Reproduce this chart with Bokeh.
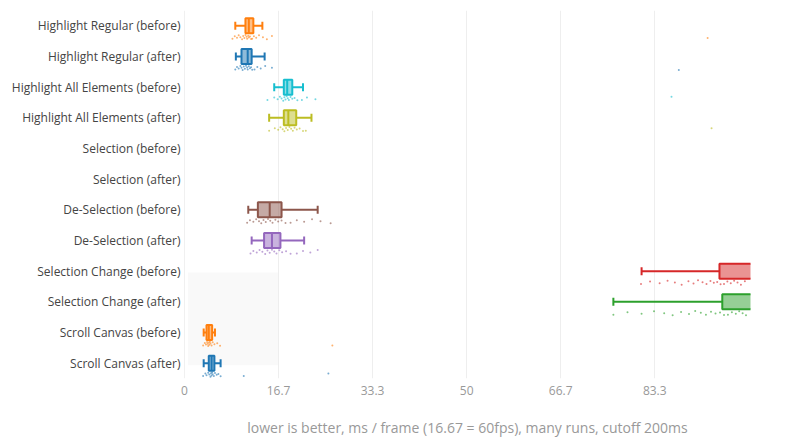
import math
from bokeh.plotting import figure
from bokeh.models import ColumnDataSource, Range1d, FixedTicker, CustomJSTickFormatter, Span
from bokeh.embed import file_html
from bokeh.resources import INLINE

categories = ["Highlight Regular (before)", "Highlight Regular (after)",
              "Highlight All Elements (before)", "Highlight All Elements (after)",
              "Selection (before)", "Selection (after)",
              "De-Selection (before)", "De-Selection (after)",
              "Selection Change (before)", "Selection Change (after)",
              "Scroll Canvas (before)", "Scroll Canvas (after)"]
colors = ["#ff7f0e", "#1f77b4", "#17becf", "#bcbd22", "#7f7f7f", "#e377c2",
          "#8c564b", "#9467bd", "#d62728", "#2ca02c", "#ff7f0e", "#1f77b4"]

nan = float("nan")
lower_whisker = [9.0, 9.1, 15.9, 15.0, nan, nan, 11.3, 11.9, 81.0, 76.0, 3.4, 3.4]
q1 = [10.8, 10.1, 17.6, 17.6, nan, nan, 13.0, 14.1, 94.8, 95.3, 3.9, 4.3]
median = [11.4, 11.2, 18.2, 18.4, nan, nan, 15.1, 15.5, 108.0, 110.0, 4.3, 4.8]
q3 = [12.2, 11.9, 19.1, 19.8, nan, nan, 17.2, 17.0, 125.0, 128.0, 4.9, 5.3]
upper_whisker = [13.8, 14.2, 21.0, 22.5, nan, nan, 23.6, 21.2, 160.0, 170.0, 5.4, 6.4]

points = [
    [8.5, 8.9, 9.3, 9.6, 9.9, 10.2, 10.4, 10.6, 10.8, 11.0, 11.1, 11.3, 11.4, 11.6, 11.8, 12.0, 12.3, 12.7, 13.2, 13.9, 14.6, 15.5, 92.7],
    [9.0, 9.3, 9.6, 9.9, 10.1, 10.3, 10.5, 10.7, 10.9, 11.1, 11.2, 11.4, 11.6, 11.8, 12.0, 12.4, 12.9, 13.5, 14.3, 15.5, 87.6],
    [14.7, 15.9, 16.5, 16.9, 17.2, 17.5, 17.7, 17.9, 18.1, 18.3, 18.5, 18.8, 19.1, 19.5, 20.0, 20.8, 21.7, 23.2, 86.3],
    [15.0, 16.0, 16.6, 17.0, 17.4, 17.7, 18.0, 18.3, 18.6, 18.9, 19.2, 19.5, 19.9, 20.4, 21.0, 21.5, 93.4],
    [],
    [],
    [11.1, 11.6, 12.2, 12.7, 13.2, 13.6, 14.0, 14.4, 14.8, 15.2, 15.6, 16.1, 16.6, 17.2, 17.9, 18.8, 19.9, 21.2, 22.6, 24.1, 25.9],
    [11.7, 12.2, 12.8, 13.3, 13.8, 14.3, 14.7, 15.1, 15.5, 15.9, 16.3, 16.8, 17.3, 18.0, 18.8, 19.9, 21.0, 22.3, 23.6],
    [80.9, 82.5, 84.2, 85.6, 86.9, 88.1, 89.3, 90.2, 91.0, 91.8, 92.5, 93.2, 93.8, 94.4, 95.0, 95.6, 96.2, 96.8, 97.4, 98.0, 98.6, 99.3, 101.0, 104.0, 110.0, 120.0],
    [76.0, 78.5, 81.0, 83.2, 85.0, 86.5, 88.0, 89.4, 90.5, 91.5, 92.4, 93.3, 94.1, 94.9, 95.6, 96.3, 97.0, 97.7, 98.3, 98.9, 99.5, 102.0, 106.0, 115.0],
    [3.3, 3.6, 3.8, 4.0, 4.1, 4.2, 4.3, 4.4, 4.5, 4.6, 4.8, 5.0, 5.3, 5.8, 6.3, 26.2],
    [3.3, 3.7, 3.9, 4.2, 4.4, 4.6, 4.7, 4.8, 4.9, 5.0, 5.2, 5.4, 5.7, 6.0, 6.4, 10.5, 25.5],
]

x_ticks = [0, 50 / 3, 100 / 3, 50, 200 / 3, 250 / 3]
axis_title = "lower is better, ms / frame (16.67 = 60fps), many runs, cutoff 200ms"

FONT = "Open Sans"
n = len(categories)
ypos = [n - 1 - i for i in range(n)]

p = figure(width=800, height=440, output_backend="svg", toolbar_location=None,
           x_range=Range1d(0, 100.3), y_range=Range1d(-0.5, n - 0.5),
           min_border_left=184, min_border_right=50, min_border_top=10, min_border_bottom=62)
p.outline_line_color = None
p.background_fill_color = "white"

# faint shaded background region
p.quad(left=[0.6], right=[50 / 3], bottom=[-0.07], top=[2.96],
       fill_color="#f9f9f9", line_color=None, level="underlay")

# x axis
p.xaxis.ticker = FixedTicker(ticks=x_ticks)
p.xaxis.formatter = CustomJSTickFormatter(code="return Number(tick.toFixed(1)).toString();")
p.xaxis.axis_line_color = None
p.xaxis.major_tick_line_color = None
p.xaxis.minor_tick_line_color = None
p.xaxis.major_tick_out = 0
p.xaxis.major_tick_in = 0
p.xaxis.minor_tick_out = 0
p.xaxis.major_label_standoff = 7
p.xaxis.major_label_text_font = FONT
p.xaxis.major_label_text_font_size = "12px"
p.xaxis.major_label_text_color = "#999999"
p.xaxis.axis_label = axis_title
p.xaxis.axis_label_text_font = FONT
p.xaxis.axis_label_text_font_size = "14px"
p.xaxis.axis_label_text_font_style = "normal"
p.xaxis.axis_label_text_color = "#999999"
p.xaxis.axis_label_standoff = 20

# y axis
p.yaxis.ticker = FixedTicker(ticks=ypos)
p.yaxis.major_label_overrides = {ypos[i]: categories[i] for i in range(n)}
p.yaxis.axis_line_color = None
p.yaxis.major_tick_line_color = None
p.yaxis.minor_tick_line_color = None
p.yaxis.major_tick_out = 0
p.yaxis.major_tick_in = 0
p.yaxis.minor_tick_out = 0
p.yaxis.major_label_standoff = 4
p.yaxis.major_label_text_font = FONT
p.yaxis.major_label_text_font_size = "12px"
p.yaxis.major_label_text_color = "#444444"

p.ygrid.grid_line_color = None
p.xgrid.grid_line_color = "#eeeeee"
p.xgrid.grid_line_width = 1
p.add_layout(Span(location=0, dimension="height", line_color="#e2e2e2", line_width=1))

BOX_H = 0.245
CAP_H = 0.13
PT_OFF = 0.37
jit = [-0.05, 0.03, -0.02, 0.06, 0.0, -0.07, 0.04, -0.03, 0.07, 0.01, -0.05, 0.05, -0.01, 0.02, -0.06]

box = dict(left=[], right=[], bottom=[], top=[], color=[])
seg = dict(x0=[], x1=[], y0=[], y1=[], color=[])
pts = dict(x=[], y=[], color=[])
for i in range(n):
    y = ypos[i]
    c = colors[i]
    if not math.isnan(q1[i]):
        box["left"].append(q1[i]); box["right"].append(q3[i])
        box["bottom"].append(y - BOX_H); box["top"].append(y + BOX_H); box["color"].append(c)
        for (a0, a1, b0, b1) in [
            (median[i], median[i], y - BOX_H, y + BOX_H),
            (lower_whisker[i], q1[i], y, y),
            (q3[i], upper_whisker[i], y, y),
            (lower_whisker[i], lower_whisker[i], y - CAP_H, y + CAP_H),
            (upper_whisker[i], upper_whisker[i], y - CAP_H, y + CAP_H),
        ]:
            seg["x0"].append(a0); seg["x1"].append(a1)
            seg["y0"].append(b0); seg["y1"].append(b1); seg["color"].append(c)
    for k, v in enumerate(points[i]):
        pts["x"].append(v)
        pts["y"].append(y - PT_OFF + jit[k % len(jit)])
        pts["color"].append(c)

p.quad(left="left", right="right", bottom="bottom", top="top", source=ColumnDataSource(box),
       fill_color="color", fill_alpha=0.5, line_color="color", line_width=2)
p.segment(x0="x0", x1="x1", y0="y0", y1="y1", source=ColumnDataSource(seg),
          line_color="color", line_width=2)
p.scatter(x="x", y="y", source=ColumnDataSource(pts), size=2,
          fill_color="color", line_color=None, fill_alpha=0.6)

open("out.html", "w").write(file_html(p, INLINE))
